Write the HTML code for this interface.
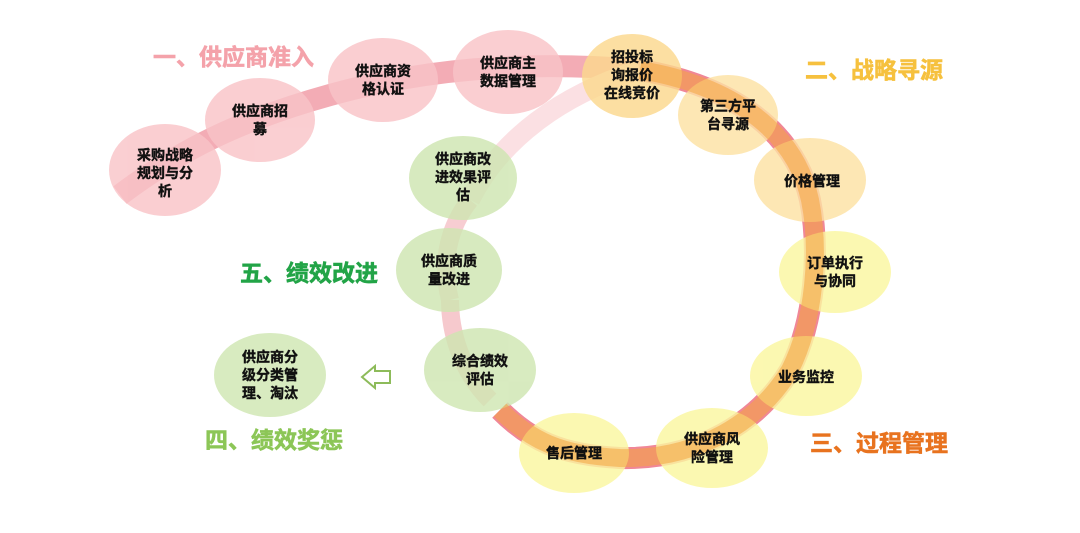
<!DOCTYPE html>
<html><head><meta charset="utf-8"><style>
body{margin:0;background:#fff}
svg{display:block}
text{font-family:"Liberation Sans","Noto Sans CJK SC",sans-serif;font-weight:bold}
.n{font-size:14px;fill:#111;text-anchor:middle;stroke:#111;stroke-width:0.4}
.t{font-size:23px;text-anchor:start;stroke-width:0.6}
</style></head><body>
<svg width="1080" height="533" viewBox="0 0 1080 533">
<!-- band -->
<path d="M120,195 C180,150 240,120 330,95 C420,70 520,60 640,70" fill="none" stroke="#f2a3ad" stroke-width="22" opacity="0.9"/>
<path d="M470,200 C500,140 560,95 640,70" fill="none" stroke="#fbe0e3" stroke-width="20"/>
<path d="M450,300 C440,260 450,225 470,200" fill="none" stroke="#f7cdd2" stroke-width="18"/>
<path d="M490,400 C460,370 450,330 450,300" fill="none" stroke="#f6c9cd" stroke-width="18"/>
<path d="M500,410 C530,440 560,455 620,458 C700,460 760,420 790,370 C815,320 820,250 810,200 C795,130 730,85 640,70" fill="none" stroke="#f08797" stroke-width="22"/>
<!-- ellipses -->
<g opacity="0.82">
<ellipse cx="165" cy="170" rx="56" ry="46" fill="#f9c4c8"/>
<ellipse cx="260" cy="120" rx="55" ry="42" fill="#f9c4c8"/>
<ellipse cx="383" cy="80" rx="55" ry="42" fill="#f9c4c8"/>
<ellipse cx="508" cy="72" rx="55" ry="42" fill="#f9c4c8"/>
<ellipse cx="632" cy="76" rx="50" ry="42" fill="#fcd98e"/>
<ellipse cx="728" cy="115" rx="50" ry="40" fill="#fde2a4"/>
<ellipse cx="810" cy="180" rx="56" ry="42" fill="#fde2a4"/>
<ellipse cx="835" cy="272" rx="56" ry="41" fill="#fbf7a0"/>
<ellipse cx="806" cy="376" rx="56" ry="40" fill="#fbf7a0"/>
<ellipse cx="712" cy="448" rx="56" ry="40" fill="#fbf7a0"/>
<ellipse cx="574" cy="453" rx="55" ry="40" fill="#fbf7a0"/>
<ellipse cx="480" cy="370" rx="56" ry="42" fill="#cfe6b2"/>
<ellipse cx="449" cy="270" rx="53" ry="42" fill="#cfe6b2"/>
<ellipse cx="463" cy="178" rx="54" ry="42" fill="#cfe6b2"/>
<ellipse cx="270" cy="375" rx="56" ry="42" fill="#cfe6b2"/>
</g>
<path d="M640,70 C730,85 795,130 810,200 C820,250 815,320 790,370 C760,420 700,460 620,458 C560,455 530,440 500,410" fill="none" stroke="#f4a440" stroke-width="18" opacity="0.55"/>
<!-- arrow -->
<path d="M362,377 L375,366 L375,371 L390,371 L390,383 L375,383 L375,388 Z" fill="#fff" stroke="#8dbb5a" stroke-width="2"/>
<!-- labels -->
<text class="n" x="165" y="160">采购战略</text><text class="n" x="165" y="178">规划与分</text><text class="n" x="165" y="196">析</text>
<text class="n" x="260" y="116">供应商招</text><text class="n" x="260" y="134">募</text>
<text class="n" x="383" y="76">供应商资</text><text class="n" x="383" y="94">格认证</text>
<text class="n" x="508" y="68">供应商主</text><text class="n" x="508" y="86">数据管理</text>
<text class="n" x="632" y="62">招投标</text><text class="n" x="632" y="80">询报价</text><text class="n" x="632" y="98">在线竞价</text>
<text class="n" x="728" y="111">第三方平</text><text class="n" x="728" y="129">台寻源</text>
<text class="n" x="812" y="186">价格管理</text>
<text class="n" x="835" y="268">订单执行</text><text class="n" x="835" y="286">与协同</text>
<text class="n" x="806" y="382">业务监控</text>
<text class="n" x="712" y="444">供应商风</text><text class="n" x="712" y="462">险管理</text>
<text class="n" x="574" y="458">售后管理</text>
<text class="n" x="480" y="366">综合绩效</text><text class="n" x="480" y="384">评估</text>
<text class="n" x="449" y="266">供应商质</text><text class="n" x="449" y="284">量改进</text>
<text class="n" x="463" y="164">供应商改</text><text class="n" x="463" y="182">进效果评</text><text class="n" x="463" y="200">估</text>
<text class="n" x="270" y="362">供应商分</text><text class="n" x="270" y="380">级分类管</text><text class="n" x="270" y="398">理、淘汰</text>
<text class="t" x="153" y="65" fill="#f4a2aa" stroke="#f4a2aa">一、供应商准入</text>
<text class="t" x="805" y="78" fill="#f6c13e" stroke="#f6c13e">二、战略寻源</text>
<text class="t" x="810" y="451" fill="#e8731f" stroke="#e8731f">三、过程管理</text>
<text class="t" x="205" y="448" fill="#8cc657" stroke="#8cc657">四、绩效奖惩</text>
<text class="t" x="240" y="281" fill="#22a447" stroke="#22a447">五、绩效改进</text>
</svg>
</body></html>
